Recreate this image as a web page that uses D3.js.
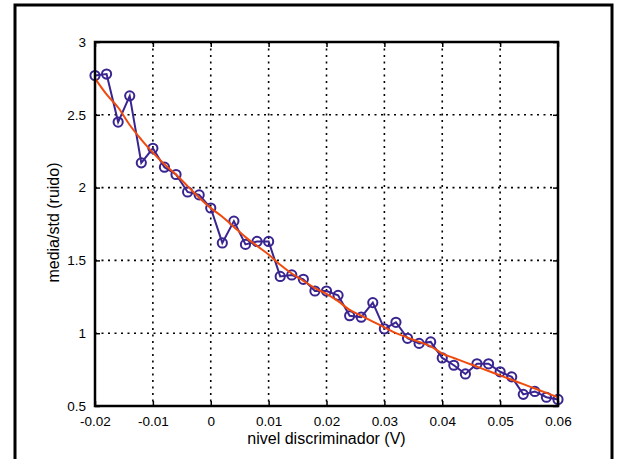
<!DOCTYPE html>
<html>
<head>
<meta charset="utf-8">
<script src="https://cdn.jsdelivr.net/npm/d3@7"></script>
<style>
  body { margin: 0; background: #fff; }
  svg { display: block; font-family: "Liberation Sans", Arial, sans-serif; }
</style>
</head>
<body>
<svg id="chart"></svg>
<script>
// discriminator level (V)
const nivel = [-0.020, -0.018, -0.016, -0.014, -0.012, -0.010, -0.008, -0.006, -0.004, -0.002,
    0.000, 0.002, 0.004, 0.006, 0.008, 0.010, 0.012, 0.014, 0.016, 0.018,
    0.020, 0.022, 0.024, 0.026, 0.028, 0.030, 0.032, 0.034, 0.036, 0.038,
    0.040, 0.042, 0.044, 0.046, 0.048, 0.050, 0.052, 0.054, 0.056, 0.058, 0.060];

// measured mean/std (blue, circles)
const medido = [2.77, 2.78, 2.45, 2.63, 2.17, 2.27, 2.14, 2.09, 1.97, 1.95,
    1.86, 1.62, 1.77, 1.61, 1.63, 1.63, 1.39, 1.40, 1.37, 1.29,
    1.29, 1.26, 1.12, 1.11, 1.21, 1.03, 1.075, 0.965, 0.93, 0.94,
    0.83, 0.78, 0.72, 0.79, 0.79, 0.735, 0.70, 0.58, 0.60, 0.56, 0.545];

// smoothed fit (red)
const ajuste = [2.75, 2.64, 2.55, 2.43, 2.33, 2.24, 2.16, 2.09, 2.01, 1.93,
    1.86, 1.80, 1.73, 1.66, 1.60, 1.54, 1.47, 1.41, 1.36, 1.31,
    1.27, 1.22, 1.16, 1.12, 1.08, 1.04, 1.00, 0.97, 0.94, 0.91,
    0.86, 0.83, 0.80, 0.77, 0.74, 0.71, 0.68, 0.65, 0.62, 0.59, 0.56];

const xTicks = [-0.02, -0.01, 0, 0.01, 0.02, 0.03, 0.04, 0.05, 0.06];
const yTicks = [0.5, 1, 1.5, 2, 2.5, 3];

class lineChartRuido {
    constructor(_config) {
        this.config = {
            parentElement: _config.parentElement,
            containerWidth: _config.containerWidth || 620,
            containerHeight: _config.containerHeight || 459,
            margin: _config.margin || {top: 42, right: 62, bottom: 53, left: 95}
        }
        this.initVis();
    }

    initVis() {
        let vis = this;

        vis.width = vis.config.containerWidth - vis.config.margin.left - vis.config.margin.right;
        vis.height = vis.config.containerHeight - vis.config.margin.top - vis.config.margin.bottom;

        vis.xScale = d3.scaleLinear()
            .domain([-0.02, 0.06])
            .range([0, vis.width]);

        vis.yScale = d3.scaleLinear()
            .domain([0.5, 3])
            .range([vis.height, 0]);

        vis.svg = d3.select(vis.config.parentElement)
            .attr('width', vis.config.containerWidth)
            .attr('height', vis.config.containerHeight);

        // outer figure frame
        vis.svg.append('rect')
            .attr('x', 15)
            .attr('y', 5)
            .attr('width', 597)
            .attr('height', 470)
            .attr('fill', 'none')
            .attr('stroke', '#000')
            .attr('stroke-width', 3);

        vis.chart = vis.svg.append('g')
            .attr('transform', `translate(${vis.config.margin.left},${vis.config.margin.top})`);

        // dotted grid
        vis.chart.append('g')
            .selectAll('line')
            .data(xTicks)
            .join('line')
            .attr('x1', d => vis.xScale(d))
            .attr('x2', d => vis.xScale(d))
            .attr('y1', 0)
            .attr('y2', vis.height)
            .attr('stroke', '#000')
            .attr('stroke-width', 1.6)
            .attr('stroke-dasharray', '2,4.5');

        vis.chart.append('g')
            .selectAll('line')
            .data(yTicks)
            .join('line')
            .attr('x1', 0)
            .attr('x2', vis.width)
            .attr('y1', d => vis.yScale(d))
            .attr('y2', d => vis.yScale(d))
            .attr('stroke', '#000')
            .attr('stroke-width', 1.6)
            .attr('stroke-dasharray', '2,4.5');

        // axes (ticks inward, box on all sides), plain hyphen for negatives
        vis.xAxis = d3.axisBottom(vis.xScale)
            .tickValues(xTicks)
            .tickFormat(d => String(d))
            .tickSizeInner(-5)
            .tickSizeOuter(0)
            .tickPadding(10);

        vis.yAxis = d3.axisLeft(vis.yScale)
            .tickValues(yTicks)
            .tickFormat(d => String(d))
            .tickSizeInner(-5)
            .tickSizeOuter(0)
            .tickPadding(9);

        vis.xAxisG = vis.chart.append('g')
            .attr('class', 'axis x-axis')
            .attr('transform', `translate(0,${vis.height})`);

        vis.yAxisG = vis.chart.append('g')
            .attr('class', 'axis y-axis');

        vis.topAxisG = vis.chart.append('g')
            .call(d3.axisTop(vis.xScale).tickValues(xTicks).tickSizeInner(-5).tickSizeOuter(0).tickFormat(''));

        vis.rightAxisG = vis.chart.append('g')
            .attr('transform', `translate(${vis.width},0)`)
            .call(d3.axisRight(vis.yScale).tickValues(yTicks).tickSizeInner(-5).tickSizeOuter(0).tickFormat(''));

        // axis titles
        vis.chart.append('text')
            .attr('text-anchor', 'middle')
            .attr('x', vis.width / 2)
            .attr('y', vis.height + 38)
            .attr('font-size', '16px')
            .text('nivel discriminador (V)');

        vis.chart.append('text')
            .attr('text-anchor', 'middle')
            .attr('transform', 'rotate(-90)')
            .attr('x', -vis.yScale(1.76))
            .attr('y', -vis.config.margin.left + 59)
            .attr('font-size', '16px')
            .text('media/std (ruido)');
    }

    updateVis() {
        let vis = this;

        vis.xAxisG.call(vis.xAxis);
        vis.yAxisG.call(vis.yAxis);
        vis.topAxisG.select('.domain').remove();
        vis.rightAxisG.select('.domain').remove();

        vis.chart.selectAll('.axis text')
            .attr('font-size', '13.5px')
            .attr('font-family', '"Liberation Sans", Arial, sans-serif')
            .attr('fill', '#000');
        vis.chart.selectAll('.tick line').attr('stroke', '#000').attr('stroke-width', 1.5);

        let points = nivel.map((d, i) => ({x: d, medido: medido[i], ajuste: ajuste[i]}));

        let lineMedido = d3.line()
            .x(d => vis.xScale(d.x))
            .y(d => vis.yScale(d.medido));

        let lineAjuste = d3.line()
            .x(d => vis.xScale(d.x))
            .y(d => vis.yScale(d.ajuste))
            .curve(d3.curveMonotoneX);

        vis.chart.append('path')
            .datum(points)
            .attr('fill', 'none')
            .attr('stroke', '#3a2590')
            .attr('stroke-width', 2)
            .attr('d', lineMedido);

        vis.chart.selectAll('.marker')
            .data(points)
            .join('circle')
            .attr('class', 'marker')
            .attr('cx', d => vis.xScale(d.x))
            .attr('cy', d => vis.yScale(d.medido))
            .attr('r', 4.6)
            .attr('fill', 'none')
            .attr('stroke', '#3a2590')
            .attr('stroke-width', 2);

        vis.chart.append('path')
            .datum(points)
            .attr('fill', 'none')
            .attr('stroke', '#f04a0c')
            .attr('stroke-width', 2)
            .attr('d', lineAjuste);

        // box lines on top
        vis.chart.append('rect')
            .attr('width', vis.width)
            .attr('height', vis.height)
            .attr('fill', 'none')
            .attr('stroke', '#000')
            .attr('stroke-width', 2.5);
    }
}

let chart = new lineChartRuido({parentElement: '#chart'});
chart.updateVis();
</script>
</body>
</html>
